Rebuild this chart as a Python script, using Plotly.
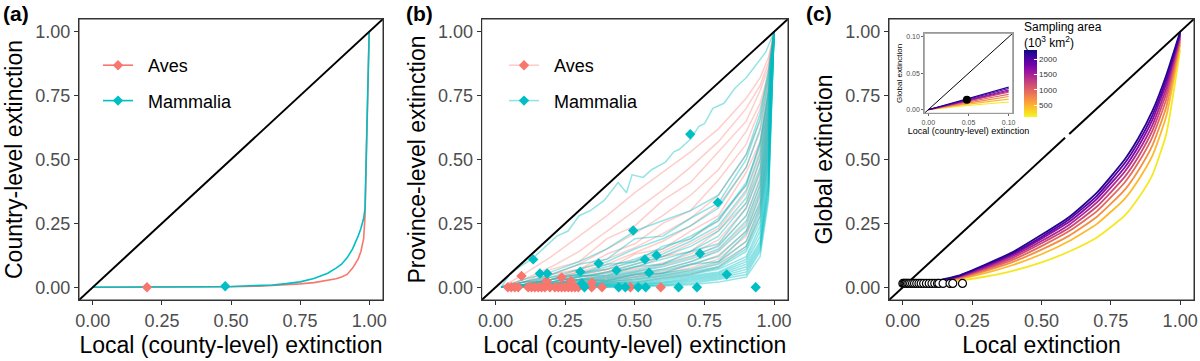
import plotly.graph_objects as go
from plotly.colors import sample_colorscale
import plotly.express as px

# ---------------- data ----------------
TICKS = [0, 0.25, 0.5, 0.75, 1.0]
TICK_TEXT = ["0.00", "0.25", "0.50", "0.75", "1.00"]
DIAG = [-0.05, 1.05]

# Panel (a)
X_A = [0, 0.1, 0.2, 0.3, 0.4, 0.5, 0.6, 0.65, 0.7, 0.75, 0.8, 0.85, 0.88, 0.9, 0.92, 0.94, 0.96, 0.97, 0.98, 0.985, 0.99, 1.0]
A_AVES = [0, 0, 0, 0, 0.001, 0.002, 0.004, 0.006, 0.009, 0.013, 0.018, 0.026, 0.033, 0.04, 0.05, 0.075, 0.11, 0.14, 0.19, 0.28, 0.55, 1.0]
A_MAMM = [0, 0, 0, 0.001, 0.002, 0.003, 0.006, 0.009, 0.014, 0.021, 0.034, 0.055, 0.075, 0.09, 0.115, 0.15, 0.20, 0.23, 0.27, 0.31, 0.55, 1.0]
A_PT_AVES = (0.196, 0.0)
A_PT_MAMM = (0.479, 0.004)

# Panel (b)
X_B = [0.02, 0.1, 0.2, 0.3, 0.4, 0.5, 0.6, 0.7, 0.8, 0.9, 0.95, 0.98, 1.0]
B_AVES = [
    [0.00, 0.05, 0.12, 0.20, 0.28, 0.37, 0.45, 0.53, 0.62, 0.74, 0.82, 0.90, 1.0],
    [0.00, 0.03, 0.08, 0.14, 0.22, 0.30, 0.38, 0.47, 0.57, 0.70, 0.79, 0.88, 1.0],
    [0.00, 0.02, 0.07, 0.10, 0.19, 0.24, 0.34, 0.41, 0.53, 0.65, 0.77, 0.86, 1.0],
    [0.00, 0.02, 0.05, 0.09, 0.15, 0.21, 0.28, 0.36, 0.46, 0.61, 0.72, 0.84, 1.0],
    [0.00, 0.01, 0.05, 0.07, 0.13, 0.17, 0.25, 0.30, 0.42, 0.56, 0.70, 0.82, 1.0],
    [0.00, 0.01, 0.03, 0.07, 0.11, 0.155, 0.21, 0.27, 0.36, 0.52, 0.65, 0.80, 1.0],
    [0.00, 0.01, 0.03, 0.06, 0.09, 0.135, 0.18, 0.24, 0.32, 0.47, 0.61, 0.78, 1.0],
    [0.00, 0.02, 0.03, 0.06, 0.07, 0.13, 0.15, 0.22, 0.28, 0.45, 0.57, 0.76, 1.0],
    [0.00, 0.01, 0.02, 0.045, 0.07, 0.105, 0.14, 0.19, 0.26, 0.40, 0.55, 0.74, 1.0],
    [0.00, 0.01, 0.02, 0.04, 0.06, 0.09, 0.12, 0.17, 0.23, 0.37, 0.52, 0.72, 1.0],
    [0.00, 0.005, 0.03, 0.03, 0.06, 0.075, 0.12, 0.14, 0.22, 0.33, 0.50, 0.70, 1.0],
    [0.00, 0.005, 0.015, 0.03, 0.05, 0.07, 0.095, 0.13, 0.185, 0.31, 0.46, 0.68, 1.0],
    [0.00, 0.005, 0.015, 0.025, 0.04, 0.06, 0.085, 0.115, 0.165, 0.28, 0.43, 0.66, 1.0],
    [0.00, 0.005, 0.01, 0.02, 0.035, 0.05, 0.07, 0.10, 0.145, 0.25, 0.40, 0.63, 1.0],
    [0.00, 0.0, 0.01, 0.02, 0.03, 0.045, 0.06, 0.085, 0.125, 0.22, 0.37, 0.60, 1.0],
    [0.00, 0.0, 0.01, 0.015, 0.025, 0.04, 0.055, 0.075, 0.11, 0.20, 0.34, 0.57, 1.0],
    [0.00, 0.0, 0.005, 0.01, 0.02, 0.03, 0.045, 0.065, 0.095, 0.18, 0.31, 0.54, 1.0],
    [0.00, 0.0, 0.005, 0.01, 0.015, 0.02, 0.035, 0.05, 0.08, 0.16, 0.28, 0.50, 1.0],
]
X_B_TOP = [0.02, 0.05, 0.1, 0.13, 0.18, 0.22, 0.26, 0.3, 0.34, 0.39, 0.44, 0.47, 0.49, 0.53, 0.56,
           0.61, 0.64, 0.66, 0.7, 0.73, 0.75, 0.78, 0.82, 0.86, 0.9, 0.94, 0.97, 1.0]
B_MAMM_TOP = [0.0, 0.05, 0.09, 0.11, 0.16, 0.20, 0.22, 0.28, 0.30, 0.34, 0.41, 0.37, 0.44, 0.43, 0.46,
              0.49, 0.53, 0.54, 0.58, 0.63, 0.64, 0.70, 0.72, 0.78, 0.82, 0.88, 0.92, 1.0]
B_MAMM = [
    [0, 0.03, 0.06, 0.10, 0.15, 0.22, 0.26, 0.30, 0.36, 0.52, 0.68, 0.85, 1],
    [0, 0.02, 0.05, 0.09, 0.11, 0.19, 0.20, 0.27, 0.33, 0.50, 0.66, 0.83, 1],
    [0, 0.02, 0.04, 0.07, 0.10, 0.15, 0.19, 0.24, 0.31, 0.47, 0.62, 0.81, 1],
    [0, 0.01, 0.04, 0.05, 0.09, 0.10, 0.16, 0.19, 0.27, 0.40, 0.57, 0.77, 1],
    [0, 0.01, 0.03, 0.05, 0.08, 0.11, 0.15, 0.20, 0.26, 0.41, 0.56, 0.77, 1],
    [0, 0.01, 0.03, 0.05, 0.07, 0.10, 0.13, 0.18, 0.24, 0.38, 0.53, 0.75, 1],
    [0, 0.01, 0.02, 0.04, 0.06, 0.09, 0.12, 0.16, 0.22, 0.35, 0.50, 0.73, 1],
    [0, 0.01, 0.02, 0.04, 0.055, 0.08, 0.11, 0.14, 0.20, 0.33, 0.47, 0.71, 1],
    [0, 0.02, 0.02, 0.045, 0.045, 0.08, 0.09, 0.14, 0.17, 0.31, 0.45, 0.69, 1],
    [0, 0.005, 0.015, 0.03, 0.045, 0.065, 0.09, 0.12, 0.16, 0.28, 0.42, 0.67, 1],
    [0, 0.005, 0.015, 0.03, 0.04, 0.06, 0.08, 0.11, 0.15, 0.26, 0.40, 0.65, 1],
    [0, 0.005, 0.01, 0.025, 0.035, 0.055, 0.07, 0.10, 0.14, 0.24, 0.38, 0.63, 1],
    [0, 0.005, 0.01, 0.02, 0.03, 0.05, 0.065, 0.09, 0.12, 0.22, 0.36, 0.61, 1],
    [0, 0.01, 0.01, 0.03, 0.025, 0.05, 0.055, 0.09, 0.10, 0.21, 0.33, 0.59, 1],
    [0, 0.0, 0.01, 0.015, 0.025, 0.04, 0.055, 0.07, 0.10, 0.18, 0.32, 0.57, 1],
    [0, 0.0, 0.01, 0.015, 0.02, 0.035, 0.05, 0.065, 0.09, 0.16, 0.30, 0.55, 1],
    [0, 0.0, 0.005, 0.01, 0.02, 0.03, 0.045, 0.06, 0.08, 0.15, 0.28, 0.53, 1],
    [0, 0.0, 0.005, 0.01, 0.015, 0.025, 0.04, 0.055, 0.075, 0.14, 0.26, 0.51, 1],
    [0, 0.0, 0.005, 0.01, 0.015, 0.02, 0.035, 0.05, 0.07, 0.12, 0.24, 0.49, 1],
    [0, 0.0, 0.005, 0.01, 0.01, 0.018, 0.03, 0.045, 0.06, 0.11, 0.22, 0.47, 1],
    [0, 0.0, 0.0, 0.005, 0.01, 0.015, 0.025, 0.04, 0.055, 0.10, 0.20, 0.45, 1],
    [0, 0.0, 0.0, 0.005, 0.01, 0.012, 0.02, 0.035, 0.05, 0.09, 0.18, 0.43, 1],
    [0, 0.0, 0.0, 0.005, 0.005, 0.01, 0.018, 0.03, 0.045, 0.08, 0.17, 0.41, 1],
    [0, 0.0, 0.0, 0.0, 0.005, 0.008, 0.015, 0.025, 0.04, 0.07, 0.16, 0.40, 1],
    [0, 0.0, 0.0, 0.0, 0.005, 0.005, 0.01, 0.02, 0.035, 0.06, 0.15, 0.38, 1],
    [0, 0.0, 0.0, 0.0, 0.0, 0.005, 0.008, 0.015, 0.03, 0.05, 0.14, 0.36, 1],
    [0, 0.0, 0.0, 0.0, 0.0, 0.003, 0.005, 0.01, 0.02, 0.04, 0.12, 0.34, 1],
]
B_PT_AVES_X = [0.044, 0.056, 0.069, 0.081, 0.117, 0.129, 0.141, 0.153, 0.165, 0.177, 0.195, 0.213,
               0.225, 0.237, 0.249, 0.261, 0.273, 0.285, 0.297, 0.345, 0.382, 0.484, 0.593,
               0.093, 0.237, 0.346, 0.183, 0.27]
B_PT_AVES_Y = [0.0] * 23 + [0.044, 0.038, 0.018, 0.025, 0.025]
B_PT_MAMM_X = [0.135, 0.159, 0.185, 0.304, 0.37, 0.434, 0.494, 0.536, 0.551, 0.578, 0.699, 0.734,
               0.798, 0.83, 0.934, 0.319, 0.442, 0.466, 0.512, 0.539, 0.657, 0.723, 0.31]
B_PT_MAMM_Y = [0.109, 0.054, 0.054, 0.061, 0.093, 0.066, 0.222, 0.109, 0.057, 0.125, 0.599, 0.132,
               0.332, 0.05, 0.0, 0.0, 0.0, 0.0, 0.0, 0.0, 0.0, 0.0, 0.015]

# Panel (c)
X_C = [0, 0.1, 0.2, 0.3, 0.4, 0.5, 0.6, 0.7, 0.8, 0.85, 0.9, 0.95, 1.0]
C_AREA = [2200, 1950, 1700, 1450, 1200, 950, 700, 450, 200]
C_CURVES = [
    [0, 0.020, 0.045, 0.090, 0.140, 0.205, 0.275, 0.370, 0.500, 0.585, 0.690, 0.830, 1.000],
    [0, 0.019, 0.044, 0.087, 0.135, 0.197, 0.266, 0.358, 0.485, 0.569, 0.673, 0.814, 0.995],
    [0, 0.019, 0.042, 0.083, 0.130, 0.190, 0.256, 0.346, 0.469, 0.552, 0.655, 0.798, 0.990],
    [0, 0.018, 0.041, 0.079, 0.124, 0.181, 0.245, 0.332, 0.452, 0.533, 0.635, 0.779, 0.985],
    [0, 0.018, 0.039, 0.075, 0.117, 0.172, 0.233, 0.316, 0.432, 0.512, 0.613, 0.759, 0.978],
    [0, 0.017, 0.037, 0.070, 0.109, 0.161, 0.220, 0.298, 0.410, 0.489, 0.588, 0.736, 0.971],
    [0, 0.016, 0.034, 0.064, 0.100, 0.147, 0.202, 0.276, 0.381, 0.458, 0.555, 0.706, 0.962],
    [0, 0.014, 0.031, 0.056, 0.088, 0.129, 0.181, 0.248, 0.346, 0.421, 0.515, 0.669, 0.951],
    [0, 0.012, 0.025, 0.042, 0.065, 0.097, 0.140, 0.195, 0.280, 0.350, 0.440, 0.600, 0.930],
]
C_CIRC_X = [0.0, 0.004, 0.008, 0.012, 0.017, 0.022, 0.028, 0.035, 0.042, 0.05, 0.058, 0.066, 0.075,
            0.085, 0.095, 0.105, 0.115, 0.125, 0.13, 0.145, 0.17, 0.18, 0.215]
C_CIRC_Y = [0.015] * len(C_CIRC_X)
DIAG_C_X = [-0.05, 0.585, None, 0.60, 1.05]

# Inset
X_IN = [0, 0.02, 0.04, 0.06, 0.08, 0.1]
IN_CURVES = [
    [0, 0.0060, 0.0120, 0.0180, 0.0250, 0.0310],
    [0, 0.0058, 0.0115, 0.0170, 0.0230, 0.0290],
    [0, 0.0055, 0.0110, 0.0160, 0.0215, 0.0270],
    [0, 0.0052, 0.0104, 0.0153, 0.0204, 0.0255],
    [0, 0.0050, 0.0098, 0.0145, 0.0192, 0.0240],
    [0, 0.0045, 0.0088, 0.0128, 0.0170, 0.0210],
    [0, 0.0040, 0.0077, 0.0110, 0.0145, 0.0180],
    [0, 0.0034, 0.0064, 0.0090, 0.0118, 0.0145],
    [0, 0.0026, 0.0048, 0.0067, 0.0086, 0.0105],
]
IN_PT = (0.048, 0.0135)
IN_DIAG = [-0.005, 0.105]
AREA_MIN, AREA_MAX = 110, 2290
CB_TICKS = [500, 1000, 1500, 2000]

# ---------------- styling ----------------
W, H = 1200, 361
FONT = "Liberation Sans, Arial, sans-serif"
RED = "#F8766D"
CYAN = "#00BFC4"
RED_A = "rgba(248,118,109,0.35)"
CYAN_A = "rgba(0,191,196,0.42)"
NB = "\u00a0"


def px2x(p):
    return p / W


def px2y(p):
    return 1 - p / H


fig = go.Figure()

# ----- panel a -----
fig.add_trace(go.Scatter(x=X_A, y=A_AVES, mode="lines", line=dict(color=RED, width=1.6),
                         showlegend=False, xaxis="x", yaxis="y"))
fig.add_trace(go.Scatter(x=X_A, y=A_MAMM, mode="lines", line=dict(color=CYAN, width=1.6),
                         showlegend=False, xaxis="x", yaxis="y"))
fig.add_trace(go.Scatter(x=[A_PT_AVES[0]], y=[A_PT_AVES[1]], mode="markers",
                         marker=dict(symbol="diamond", size=8, color=RED),
                         showlegend=False, xaxis="x", yaxis="y"))
fig.add_trace(go.Scatter(x=[A_PT_MAMM[0]], y=[A_PT_MAMM[1]], mode="markers",
                         marker=dict(symbol="diamond", size=8, color=CYAN),
                         showlegend=False, xaxis="x", yaxis="y"))
fig.add_trace(go.Scatter(x=DIAG, y=DIAG, mode="lines", line=dict(color="black", width=2),
                         showlegend=False, xaxis="x", yaxis="y"))
for name, col in [("Aves", RED), ("Mammalia", CYAN)]:
    fig.add_trace(go.Scatter(x=[None], y=[None], mode="lines+markers", name=NB * 2 + name,
                             line=dict(color=col, width=1.6),
                             marker=dict(symbol="diamond", size=8, color=col),
                             legend="legend", legendgroup="a" + name, xaxis="x", yaxis="y"))

# ----- panel b -----
for ys in B_AVES:
    fig.add_trace(go.Scatter(x=X_B, y=ys, mode="lines", line=dict(color=RED_A, width=1.5),
                             showlegend=False, xaxis="x2", yaxis="y2"))
for ys in B_MAMM:
    fig.add_trace(go.Scatter(x=X_B, y=ys, mode="lines", line=dict(color=CYAN_A, width=1.5),
                             showlegend=False, xaxis="x2", yaxis="y2"))
fig.add_trace(go.Scatter(x=X_B_TOP, y=B_MAMM_TOP, mode="lines", line=dict(color=CYAN_A, width=1.5),
                         showlegend=False, xaxis="x2", yaxis="y2"))
fig.add_trace(go.Scatter(x=B_PT_AVES_X, y=B_PT_AVES_Y, mode="markers",
                         marker=dict(symbol="diamond", size=8, color=RED),
                         showlegend=False, xaxis="x2", yaxis="y2"))
fig.add_trace(go.Scatter(x=B_PT_MAMM_X, y=B_PT_MAMM_Y, mode="markers",
                         marker=dict(symbol="diamond", size=8, color=CYAN),
                         showlegend=False, xaxis="x2", yaxis="y2"))
fig.add_trace(go.Scatter(x=DIAG, y=DIAG, mode="lines", line=dict(color="black", width=2),
                         showlegend=False, xaxis="x2", yaxis="y2"))
for name, col, cola in [("Aves", RED, RED_A), ("Mammalia", CYAN, CYAN_A)]:
    fig.add_trace(go.Scatter(x=[None], y=[None], mode="lines+markers", name=NB * 2 + name,
                             line=dict(color=cola, width=1.6),
                             marker=dict(symbol="diamond", size=8, color=col),
                             legend="legend2", legendgroup="b" + name, xaxis="x2", yaxis="y2"))

# ----- panel c -----
plasma_r = px.colors.sequential.Plasma_r
cols = sample_colorscale(plasma_r, [(a - AREA_MIN) / (AREA_MAX - AREA_MIN) for a in C_AREA])
for ys, c in zip(reversed(C_CURVES), reversed(cols)):
    fig.add_trace(go.Scatter(x=X_C, y=ys, mode="lines",
                             line=dict(color=c, width=1.8, shape="spline", smoothing=0.5),
                             showlegend=False, xaxis="x3", yaxis="y3"))
fig.add_trace(go.Scatter(x=DIAG_C_X, y=DIAG_C_X, mode="lines", line=dict(color="black", width=2),
                         showlegend=False, xaxis="x3", yaxis="y3"))
fig.add_trace(go.Scatter(x=C_CIRC_X, y=C_CIRC_Y, mode="markers",
                         marker=dict(symbol="circle", size=8, color="white",
                                     line=dict(color="black", width=1.2)),
                         showlegend=False, xaxis="x3", yaxis="y3"))
# colour bar carrier
cbar = dict(x=px2x(1024.3), xanchor="left", y=px2y(83.7), yanchor="middle",
            thickness=13, lenmode="pixels", len=67, xpad=0, ypad=0,
            outlinewidth=0, tickvals=CB_TICKS, ticks="inside",
            tickcolor="white", ticklen=3,
            tickfont=dict(size=8, color="#333", family=FONT))
fig.add_trace(go.Scatter(x=[None], y=[None], mode="markers", showlegend=False, xaxis="x3", yaxis="y3",
                         marker=dict(color=[AREA_MIN], colorscale="Plasma_r", cmin=AREA_MIN, cmax=AREA_MAX,
                                     showscale=True, colorbar=cbar)))

# ----- inset -----
for ys, c in zip(reversed(IN_CURVES), reversed(cols)):
    fig.add_trace(go.Scatter(x=X_IN, y=ys, mode="lines", line=dict(color=c, width=1.1),
                             showlegend=False, xaxis="x4", yaxis="y4"))
fig.add_trace(go.Scatter(x=IN_DIAG, y=IN_DIAG, mode="lines", line=dict(color="black", width=1),
                         showlegend=False, xaxis="x4", yaxis="y4"))
fig.add_trace(go.Scatter(x=[IN_PT[0]], y=[IN_PT[1]], mode="markers",
                         marker=dict(size=8, color="black"), showlegend=False, xaxis="x4", yaxis="y4"))


# ---------------- layout ----------------
def main_axis(domain, title, anchor, is_x):
    return dict(domain=domain, anchor=anchor, range=[-0.05, 1.05], tickvals=TICKS, ticktext=TICK_TEXT,
                automargin=False,
                showgrid=False, zeroline=False, showline=True, mirror=True, linecolor="#333", linewidth=1,
                ticks="outside", ticklen=4, tickcolor="#333", tickwidth=1,
                tickfont=dict(size=18, color="#4D4D4D", family=FONT),
                title=dict(text=title, font=dict(size=23, color="black", family=FONT),
                           standoff=7 if is_x else 6))


def inset_axis(domain, title, anchor, size):
    return dict(domain=domain, anchor=anchor, range=[-0.005, 0.105], automargin=False,
                tickvals=[0, 0.05, 0.1], ticktext=["0.00", "0.05", "0.10"], showgrid=False, zeroline=False,
                showline=True, mirror=True, linecolor="#999", linewidth=1, ticks="outside", ticklen=2,
                tickcolor="#666", tickfont=dict(size=7, color="#4D4D4D", family=FONT),
                title=dict(text=title, font=dict(size=size, color="black", family=FONT), standoff=2))


frames = []
for xr, yr in [("x", "y"), ("x2", "y2"), ("x3", "y3")]:
    frames.append(dict(type="rect", xref=xr + " domain", yref=yr + " domain", x0=0, x1=1, y0=0, y1=1,
                       line=dict(color="#333", width=1), fillcolor="rgba(0,0,0,0)", layer="above"))
frames.append(dict(type="rect", xref="x4 domain", yref="y4 domain", x0=0, x1=1, y0=0, y1=1,
                   line=dict(color="#999", width=1), fillcolor="rgba(0,0,0,0)", layer="above"))

ydom = [px2y(300), px2y(19)]
layout = dict(
    width=W, height=H, margin=dict(l=0, r=0, t=0, b=0, autoexpand=False),
    paper_bgcolor="white", plot_bgcolor="white",
    font=dict(family=FONT),
    xaxis=main_axis([px2x(79), px2x(383)], "Local (county-level) extinction", "y", True),
    yaxis=main_axis(ydom, "Country-level extinction", "x", False),
    xaxis2=main_axis([px2x(481.7), px2x(788)], "Local (county-level) extinction", "y2", True),
    yaxis2=main_axis(ydom, "Province-level extinction", "x2", False),
    xaxis3=main_axis([px2x(889), px2x(1194)], "Local extinction", "y3", True),
    yaxis3=main_axis(ydom, "Global extinction", "x3", False),
    xaxis4=inset_axis([px2x(924.3), px2x(1012.7)], "Local (country-level) extinction", "y4", 9),
    yaxis4=inset_axis([px2y(113.3), px2y(33.3)], "Global extinction", "x4", 8),
    legend=dict(x=px2x(98), y=px2y(47), xanchor="left", yanchor="top", bgcolor="rgba(0,0,0,0)",
                font=dict(size=18, color="black", family=FONT), tracegroupgap=9, itemwidth=30),
    legend2=dict(x=px2x(504), y=px2y(47), xanchor="left", yanchor="top", bgcolor="rgba(0,0,0,0)",
                 font=dict(size=18, color="black", family=FONT), tracegroupgap=9, itemwidth=30),
    shapes=frames,
    annotations=[
        dict(text="<b>(a)</b>", x=px2x(1), y=px2y(0), xref="paper", yref="paper", xanchor="left",
             yanchor="top", showarrow=False, font=dict(size=21, color="black", family=FONT)),
        dict(text="<b>(b)</b>", x=px2x(404), y=px2y(0), xref="paper", yref="paper", xanchor="left",
             yanchor="top", showarrow=False, font=dict(size=21, color="black", family=FONT)),
        dict(text="<b>(c)</b>", x=px2x(804), y=px2y(0), xref="paper", yref="paper", xanchor="left",
             yanchor="top", showarrow=False, font=dict(size=21, color="black", family=FONT)),
        dict(text="Sampling area<br>(10<sup>3</sup> km<sup>2</sup>)", x=px2x(1022), y=px2y(18),
             xref="paper", yref="paper", xanchor="left", yanchor="top", align="left", showarrow=False,
             font=dict(size=12, color="black", family=FONT)),
    ],
)
fig.update_layout(**layout)
fig.write_html("out.html", config={"displayModeBar": False},
               post_script="document.body.style.margin='0px';document.body.style.overflow='hidden';")
